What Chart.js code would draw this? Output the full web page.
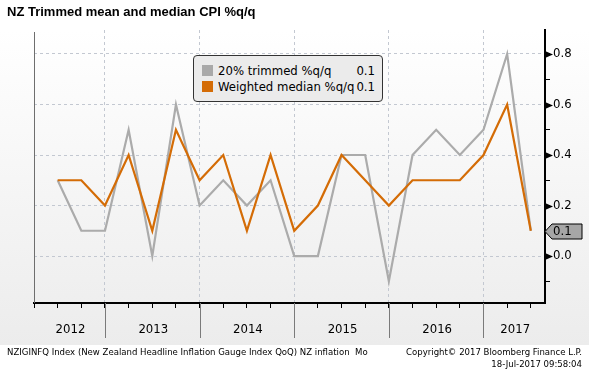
<!DOCTYPE html>
<html lang="en">
<head>
<meta charset="UTF-8">
<title>NZ Trimmed mean and median CPI %q/q</title>
<script src="https://cdn.jsdelivr.net/npm/chart.js@4.4.0/dist/chart.umd.min.js"></script>
<style>
  html, body { margin: 0; padding: 0; background: #fff; }
  .wrap {
    position: relative; width: 589px; height: 374px; overflow: hidden;
    background: linear-gradient(to bottom, #fff 0px, #fff 30px, #ececec 345px, #fff 345px);
    font-family: "DejaVu Sans Condensed", "DejaVu Sans", sans-serif;
  }
  canvas { position: absolute; left: 0; top: 0; }
  .title {
    position: absolute; left: 7px; top: 4px;
    font: bold 13px "Liberation Sans", Arial, sans-serif; color: #000;
  }
  .legend {
    position: absolute; left: 193px; top: 55px; width: 188px; height: 45px;
    background: #ebebeb; border: 1px solid #333; border-radius: 4px;
    font-size: 13px; color: #000;
  }
  .legend .row { position: absolute; left: 8px; right: 7px; height: 15px; line-height: 15px; }
  .legend .sw { position: absolute; left: 0; top: 2px; width: 11px; height: 11px; }
  .legend .name { position: absolute; left: 16px; }
  .legend .val { position: absolute; right: 0; }
  .foot { position: absolute; font-size: 9.5px; color: #000; white-space: pre; }
</style>
</head>
<body>
<div class="wrap">
  <canvas id="cpi" width="589" height="374"></canvas>
  <div class="title">NZ Trimmed mean and median CPI %q/q</div>
  <div class="legend">
    <div class="row" style="top:7px"><span class="sw" style="background:#a9a9a9"></span><span class="name">20% trimmed %q/q</span><span class="val" id="v0"></span></div>
    <div class="row" style="top:23px"><span class="sw" style="background:#d46c06"></span><span class="name">Weighted median %q/q</span><span class="val" id="v1"></span></div>
  </div>
  <div class="foot" style="left:7px; top:346px">NZIGINFQ Index (New Zealand Headline Inflation Gauge Index QoQ) NZ inflation  Mo</div>
  <div class="foot" style="right:7px; top:346px">Copyright© 2017 Bloomberg Finance L.P.</div>
  <div class="foot" style="right:7px; top:358px">18-Jul-2017 09:58:04</div>
</div>
<script>
  // quarterly data
  const quarters = ['2012Q2', '2012Q3', '2012Q4',
    '2013Q1', '2013Q2', '2013Q3', '2013Q4',
    '2014Q1', '2014Q2', '2014Q3', '2014Q4',
    '2015Q1', '2015Q2', '2015Q3', '2015Q4',
    '2016Q1', '2016Q2', '2016Q3', '2016Q4',
    '2017Q1', '2017Q2'];
  const trimmed = [0.3, 0.1, 0.1, 0.5, 0.0, 0.6, 0.2, 0.3, 0.2, 0.3, 0.0, 0.0, 0.4, 0.4, -0.1, 0.4, 0.5, 0.4, 0.5, 0.8, 0.1];
  const median = [0.3, 0.3, 0.2, 0.4, 0.1, 0.5, 0.3, 0.4, 0.1, 0.4, 0.1, 0.2, 0.4, 0.3, 0.2, 0.3, 0.3, 0.3, 0.4, 0.6, 0.1];
  const yearLabels = ['2012', '2013', '2014', '2015', '2016', '2017'];
  const yTicks = [-0.1, 0.0, 0.1, 0.2, 0.3, 0.4, 0.5, 0.6, 0.7, 0.8];

  const FONT = '"DejaVu Sans Condensed", "DejaVu Sans", sans-serif';
  const GRID = '#c3c8d1';

  // quarter end as decimal year
  function qx(q) { return parseInt(q.slice(0, 4)) + parseInt(q.slice(5)) / 4; }
  const xs = quarters.map(qx);
  const xTicks = [xs[0] - 0.25].concat(xs);
  const isYear = v => Math.abs(v - Math.round(v)) < 1e-6;
  const isMajor = v => Math.round(v * 10) % 2 === 0;

  document.getElementById('v0').textContent = trimmed[trimmed.length - 1].toFixed(1);
  document.getElementById('v1').textContent = median[median.length - 1].toFixed(1);

  const decor = {
    id: 'decor',
    afterDraw(chart) {
      const { ctx, chartArea: a, scales: { x, y } } = chart;
      ctx.save();
      // left frame line
      ctx.strokeStyle = '#6e6e6e';
      ctx.lineWidth = 1;
      ctx.beginPath();
      ctx.moveTo(a.left + 0.5, a.top + 2);
      ctx.lineTo(a.left + 0.5, a.bottom);
      ctx.stroke();

      // year separators + year labels
      ctx.font = '13px ' + FONT;
      ctx.fillStyle = '#000';
      ctx.textAlign = 'center';
      ctx.textBaseline = 'middle';
      yearLabels.forEach(yr => {
        const x0 = x.getPixelForValue(+yr), x1 = x.getPixelForValue(+yr + 1);
        if (x0 > a.left + 1) {
          ctx.strokeStyle = '#7a7a7a';
          ctx.beginPath();
          ctx.moveTo(Math.round(x0) + 0.5, a.bottom);
          ctx.lineTo(Math.round(x0) + 0.5, a.bottom + 35);
          ctx.stroke();
        }
        const s = Math.max(x0, a.left), e = Math.min(x1, a.right);
        ctx.fillText(yr, (s + e) / 2 + 1, a.bottom + 27);
      });

      // arrow heads on major y ticks
      ctx.fillStyle = '#000';
      yTicks.filter(isMajor).forEach(v => {
        const py = Math.round(y.getPixelForValue(v)) + 0.5;
        ctx.beginPath();
        ctx.moveTo(a.right, py - 3.5);
        ctx.lineTo(a.right + 8, py);
        ctx.lineTo(a.right, py + 3.5);
        ctx.closePath();
        ctx.fill();
      });

      // last value tag
      const last = trimmed[trimmed.length - 1];
      const ty = Math.round(y.getPixelForValue(last)) + 0.5;
      const tx = a.right;
      ctx.beginPath();
      ctx.moveTo(tx, ty);
      ctx.lineTo(tx + 7, ty - 7.5);
      ctx.lineTo(582, ty - 7.5);
      ctx.lineTo(582, ty + 7.5);
      ctx.lineTo(tx + 7, ty + 7.5);
      ctx.closePath();
      ctx.fillStyle = '#a6a6a6';
      ctx.fill();
      ctx.strokeStyle = '#000';
      ctx.lineWidth = 1;
      ctx.stroke();
      ctx.fillStyle = '#000';
      ctx.textAlign = 'left';
      ctx.fillText(last.toFixed(1), tx + 8, ty + 0.5);
      ctx.restore();
    }
  };

  new Chart(document.getElementById('cpi').getContext('2d'), {
    type: 'line',
    data: {
      datasets: [{
        label: '20% trimmed %q/q',
        data: xs.map((v, i) => ({ x: v, y: trimmed[i] })),
        borderColor: '#ababab',
        order: 2
      }, {
        label: 'Weighted median %q/q',
        data: xs.map((v, i) => ({ x: v, y: median[i] })),
        borderColor: '#d46c06',
        order: 1
      }]
    },
    options: {
      responsive: false,
      animation: false,
      layout: { padding: { left: 34, top: 30, right: 0, bottom: 0 } },
      elements: {
        point: { radius: 0 },
        line: { borderWidth: 2.2, tension: 0 }
      },
      plugins: {
        legend: { display: false },
        tooltip: { enabled: false }
      },
      scales: {
        x: {
          type: 'linear',
          min: 2012.25,
          max: 2017.65,
          afterBuildTicks: s => { s.ticks = xTicks.map(v => ({ value: v })); },
          afterFit: s => { s.height = 71; },
          ticks: { display: false },
          grid: {
            color: c => (c.tick && isYear(c.tick.value)) ? GRID : 'rgba(0,0,0,0)',
            tickColor: '#000',
            tickLength: 5
          },
          border: { color: '#000', width: 2, dash: [3, 3] }
        },
        y: {
          position: 'right',
          min: -0.186,
          max: 0.895,
          afterBuildTicks: s => { s.ticks = yTicks.map(v => ({ value: v })); },
          afterFit: s => { s.width = 44; },
          ticks: {
            callback: v => isMajor(v) ? v.toFixed(1) : '',
            color: '#000',
            padding: 3,
            font: { family: FONT, size: 13 }
          },
          grid: {
            color: c => (c.tick && isMajor(c.tick.value)) ? GRID : 'rgba(0,0,0,0)',
            tickColor: '#000',
            tickLength: 5
          },
          border: { color: '#000', width: 2, dash: [3, 3] }
        }
      }
    },
    plugins: [decor]
  });
</script>
</body>
</html>
